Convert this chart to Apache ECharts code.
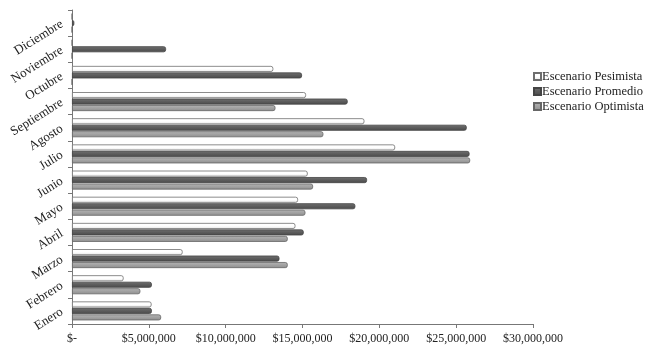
<!DOCTYPE html>
<html>
<head>
<meta charset="utf-8">
<script src="https://cdn.jsdelivr.net/npm/echarts@6/dist/echarts.min.js"></script>
<style>
  html, body { margin: 0; padding: 0; background: #fff; }
  #main { width: 648px; height: 352px; }
</style>
</head>
<body>
<div id="main"></div>
<script>
var months = ['Enero', 'Febrero', 'Marzo', 'Abril', 'Mayo', 'Junio',
  'Julio', 'Agosto', 'Septiembre', 'Octubre', 'Noviembre', 'Diciembre'];

var pesimista = [5180000, 3360000, 7200000, 14540000, 14710000, 15340000,
  21030000, 19030000, 15230000, 13100000, 0, 0];
var promedio = [5200000, 5200000, 13500000, 15080000, 18440000, 19200000,
  25870000, 25690000, 17940000, 14970000, 6120000, 150000];
var optimista = [5800000, 4450000, 14040000, 14040000, 15190000, 15690000,
  25910000, 16360000, 13240000, 0, 0, 0];

var serif = '"Liberation Serif", "Times New Roman", serif';

function money(v) {
  if (v === 0) return '$-';
  return '$' + String(v).replace(/\B(?=(\d{3})+(?!\d))/g, ',');
}

function grad(top, mid, bottom) {
  return new echarts.graphic.LinearGradient(0, 0, 0, 1, [
    { offset: 0, color: top },
    { offset: 0.5, color: mid },
    { offset: 1, color: bottom }
  ]);
}

var chart = echarts.init(document.getElementById('main'));

chart.setOption({
  animation: false,
  backgroundColor: '#fff',
  grid: { left: 72, right: 115, top: 10, bottom: 28 },
  legend: {
    orient: 'vertical',
    left: 533,
    top: 70,
    padding: 0,
    icon: 'rect',
    itemWidth: 7,
    itemHeight: 7,
    itemGap: 2,
    textStyle: { fontFamily: serif, fontSize: 12.5, color: '#222', padding: [0, 0, 0, -4] },
    data: ['Escenario Pesimista', 'Escenario Promedio', 'Escenario Optimista']
  },
  xAxis: {
    type: 'value',
    min: 0,
    max: 30000000,
    interval: 5000000,
    splitLine: { show: false },
    axisLine: { show: true, lineStyle: { color: '#777' } },
    axisTick: { show: true, length: 4, lineStyle: { color: '#777' } },
    axisLabel: {
      fontFamily: serif, fontSize: 12, color: '#222', margin: 9,
      formatter: money
    }
  },
  yAxis: {
    type: 'category',
    data: months,
    axisLine: { show: true, lineStyle: { color: '#777' } },
    axisTick: { show: true, length: 4, lineStyle: { color: '#777' } },
    axisLabel: {
      fontFamily: serif, fontSize: 13, color: '#222', rotate: 32, margin: 10
    }
  },
  series: [{
    name: 'Escenario Pesimista',
    type: 'bar',
    barWidth: 6,
    barGap: '8%',
    data: pesimista,
    itemStyle: {
      color: grad('#ffffff', '#ffffff', '#e6e6e6'),
      borderColor: '#6e6e6e',
      borderWidth: 0.8,
      borderRadius: [0, 2, 2, 0]
    }
  }, {
    name: 'Escenario Promedio',
    type: 'bar',
    barWidth: 6,
    barGap: '8%',
    data: promedio,
    itemStyle: {
      color: grad('#707070', '#5c5c5c', '#4a4a4a'),
      borderColor: '#444',
      borderWidth: 0.8,
      borderRadius: [0, 2, 2, 0]
    }
  }, {
    name: 'Escenario Optimista',
    type: 'bar',
    barWidth: 6,
    barGap: '8%',
    data: optimista,
    itemStyle: {
      color: grad('#b4b4b4', '#a2a2a2', '#8e8e8e'),
      borderColor: '#666',
      borderWidth: 0.8,
      borderRadius: [0, 2, 2, 0]
    }
  }]
});
</script>
</body>
</html>
